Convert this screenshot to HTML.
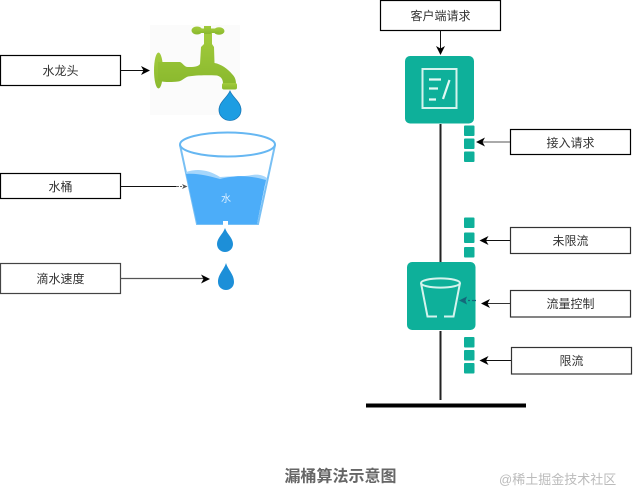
<!DOCTYPE html>
<html>
<head>
<meta charset="utf-8">
<style>
html,body{margin:0;padding:0;background:#fff;width:633px;height:502px;overflow:hidden}
svg{display:block;filter:blur(.3px)}
text{font-family:"Liberation Sans","Noto Sans CJK SC",sans-serif}
</style>
</head>
<body>
<svg width="633" height="502" viewBox="0 0 633 502" xmlns="http://www.w3.org/2000/svg">
<defs>
<linearGradient id="g" x1="0" y1="0" x2="0" y2="1">
<stop offset="0" stop-color="#a2cb3c"/>
<stop offset="1" stop-color="#8ab92e"/>
</linearGradient>
</defs>
<rect x="150" y="25" width="90" height="90" fill="#fbfbfb"/>
<g fill="url(#g)">
<ellipse cx="158.500" cy="70.500" rx="4.500" ry="18"/>
<path d="M158 62 L180 62 C183 63 184 67 188 67 C193 67 198 67 200 64 L201 47 L204 44 L204 33 L212 33 L212 44 L214 47 L214.500 63 C221 64 228 69 232 74 C235 77 236 80 236 84 L223 84 C223 80 222 77 217 75.500 C208 75 196 75 188 76.500 C184 78 182 81 178 81.500 C170 82.500 164 82 158 81 Z"/>
<ellipse cx="197" cy="30.500" rx="5.500" ry="4"/>
<ellipse cx="219" cy="31" rx="5.500" ry="3.800"/>
<rect x="197" y="28.500" width="22" height="4.500"/>
<rect x="204" y="26" width="7" height="8"/>
<rect x="222" y="83" width="15" height="6.500" rx="2"/>
</g>
<path d="M230 91 C233 98 241 102 241 110 C241 116 236 120.500 230 120.500 C224 120.500 219 116 219 110 C219 102 227 98 230 91 Z" fill="#1d9de2" stroke="#1878b8" stroke-width=".8"/>

<path d="M180 145 L197 224 L258 224 L275 145" fill="none" stroke="#79c0f4" stroke-width="2"/>
<path d="M186 172 C198 168 209 170 220 177 C232 176 242 177 252 175 C258 174 263 175 267 178 L266 185 L190 185 Z" fill="#a6d6fb"/>
<path d="M186 174 C198 173 208 176 220 179 C232 176 245 174 266 180 L257 224 L197 224 Z" fill="#4cadf9"/>
<ellipse cx="227.500" cy="144.500" rx="47.500" ry="12" fill="none" stroke="#66b7f2" stroke-width="2"/>
<rect x="223" y="221" width="5" height="5" fill="#fff"/>
<text x="226" y="202" font-size="10" fill="#dcefff" text-anchor="middle">水</text>
<path d="M225 228 C227 234 233 238 233 244 C233 249 229 252 225 252 C221 252 217 249 217 244 C217 238 223 234 225 228 Z" fill="#1d8fd8"/>
<path d="M226 263 C228 270 234 274 234 282 C234 287 230 290 226 290 C222 290 218 287 218 282 C218 274 224 270 226 263 Z" fill="#1d8fd8"/>

<g fill="#fff" stroke="#000" stroke-width="1.200">
<rect x="0.500" y="55.500" width="120" height="30"/>
<rect x="0.500" y="173.500" width="120" height="25"/>
<rect x="0.500" y="263.500" width="120" height="30" stroke="#444"/>
<rect x="380.500" y="0.500" width="120" height="30"/>
<rect x="510.500" y="129.500" width="120" height="25"/>
<rect x="510.500" y="227.500" width="120" height="26" stroke="#333"/>
<rect x="510.500" y="290.500" width="120" height="26.500" stroke="#333"/>
<rect x="511.500" y="347.500" width="120" height="26.500" stroke="#333"/>
</g>
<g font-size="12" fill="#333" text-anchor="middle">
<text x="60.500" y="75">水龙头</text>
<text x="60.500" y="191">水桶</text>
<text x="60.500" y="283">滴水速度</text>
<text x="440.500" y="20">客户端请求</text>
<text x="570.500" y="147">接入请求</text>
<text x="570.500" y="245">未限流</text>
<text x="570.500" y="308">流量控制</text>
<text x="571.500" y="365">限流</text>
</g>

<g stroke="#111" stroke-width="1" fill="none">
<path d="M120.500 70.500H144"/>
<path d="M120.500 186.500H176"/>
<path d="M120.500 278.500H204" stroke="#555" stroke-width="1.300"/>
<path d="M440.500 30.500V49"/>
<path d="M510 142H482" stroke="#555"/>
<path d="M510 240.500H486"/>
<path d="M510 303.500H487" stroke="#333"/>
<path d="M511 360.500H486"/>
</g>
<path d="M176 186.500h6" stroke="#666" stroke-dasharray="3 1"/>
<path d="M150 70.500L141 66L143.500 70.500L141 75Z" fill="#000"/>
<path d="M187.500 186.500L182 184L183.500 186.500L182 189Z" fill="#555"/>
<path d="M210 279L201 274.500L203.500 279L201 283.500Z" fill="#000"/>
<path d="M440.500 55L436 46L440.500 48.500L445 46Z" fill="#000"/>
<path d="M476 142L485 137.500L482.500 142L485 146.500Z" fill="#000"/>
<path d="M479.500 240.500L488.500 236L486 240.500L488.500 245Z" fill="#000"/>
<path d="M481 303.500L490 299L487.500 303.500L490 308Z" fill="#000"/>
<path d="M479.500 360.500L488.500 356L486 360.500L488.500 365Z" fill="#000"/>

<path d="M440.500 124V262M440.500 331V400" stroke="#222" stroke-width="2" fill="none"/>
<rect x="366" y="403.500" width="160" height="4" fill="#000"/>

<rect x="405" y="56" width="69" height="67.500" rx="5" fill="#0eb09a"/>
<rect x="422.500" y="69" width="34" height="39" fill="none" stroke="#d4f3ed" stroke-width="2"/>
<path d="M429 79.500H441M429 88.500H438M429 99.500H436M449.500 80L443 99" fill="none" stroke="#e2f8f4" stroke-width="2.200"/>

<rect x="407" y="262" width="68.500" height="68" rx="5" fill="#0eb09a"/>
<ellipse cx="440.500" cy="283" rx="19.500" ry="4.600" fill="none" stroke="#d4f3ed" stroke-width="2"/>
<path d="M421 283L427.500 316.500H437M444 316.500H453.500L460 283" fill="none" stroke="#d4f3ed" stroke-width="2"/>
<path d="M476 300.500H468" stroke="#14687a" stroke-width="1.200" stroke-dasharray="4 2" fill="none"/>
<path d="M459 300.500L467 296.500L465.500 300.500L467 304.500Z" fill="#14687a"/>

<g fill="#0eb09a">
<rect x="464" y="125.500" width="10.500" height="10.500" rx="1"/>
<rect x="464" y="138.500" width="10.500" height="10.500" rx="1"/>
<rect x="464" y="151.500" width="10.500" height="10.500" rx="1"/>
<rect x="464" y="217.500" width="10.500" height="10.500" rx="1"/>
<rect x="464" y="232.500" width="10.500" height="10.500" rx="1"/>
<rect x="464" y="247" width="10.500" height="10.500" rx="1"/>
<rect x="464" y="337" width="10.500" height="10.500" rx="1"/>
<rect x="464" y="350" width="10.500" height="10.500" rx="1"/>
<rect x="464" y="363" width="10.500" height="10.500" rx="1"/>
</g>

<text x="340.500" y="481.500" font-size="16" font-weight="bold" fill="#666" text-anchor="middle">漏桶算法示意图</text>
<text x="499" y="484" font-size="13" fill="#bbb">@稀土掘金技术社区</text>
</svg>
</body>
</html>
